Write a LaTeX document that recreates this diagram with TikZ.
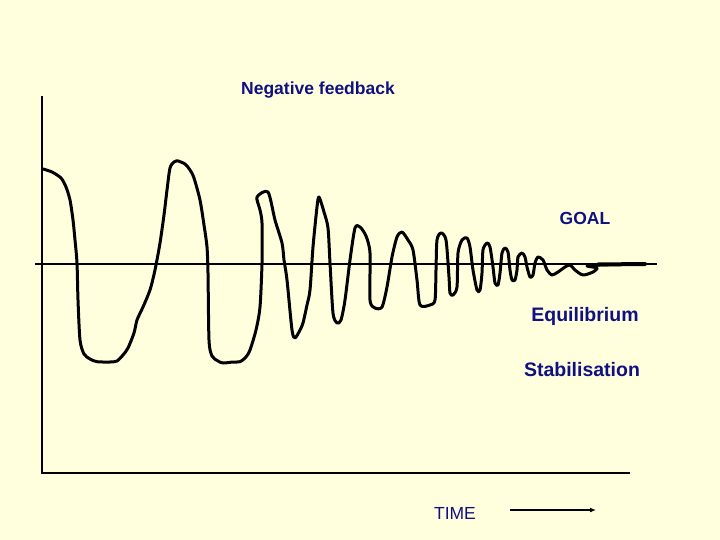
\documentclass[tikz,border=0pt]{standalone}
\usepackage{fontspec}
\setmainfont{Liberation Sans}
\usetikzlibrary{arrows.meta}
\definecolor{bg}{RGB}{255,255,221}
\definecolor{navy}{RGB}{16,16,128}
\tikzset{
  lbl/.style={text=navy, inner sep=0pt, font=\fontsize{17.5}{20}\selectfont\bfseries},
  lblbig/.style={text=navy, inner sep=0pt, font=\fontsize{19.5}{22}\selectfont\bfseries},
  lblreg/.style={text=navy, inner sep=0pt, font=\fontsize{17.5}{20}\selectfont},
  axis/.style={line width=2pt, black},
  wave/.style={line width=3pt, black, line join=round, line cap=round}
}
\begin{document}
\begin{tikzpicture}[x=1pt,y=-1pt]
\fill[bg] (0,0) rectangle (720,540);
\useasboundingbox (0,0) rectangle (720,540);
% axes
\coordinate (ytop) at (42,96);
\coordinate (orig) at (42,473);
\coordinate (xend) at (630,473);
\coordinate (gl) at (35,264);
\coordinate (gr) at (657,264);
\draw[axis] (ytop) -- (orig) -- (xend);
\draw[axis] (gl) -- (gr);
% wave
\draw[wave] plot[smooth, tension=0.45] coordinates {
(43,169) (52,172) (61,178) (66,187) (70,200) (73,220) (75,240) (77,263) (78,300) (80,340) (84,354) (90,359) (97,361.7) (110,362) (117,361) (123,355) (128,348) (134,333) (137,320) (143,307) (150,290) (155,270) (160,243) (164,215) (167,190) (170,168) (174,162) (177,160.7) (185,164) (190,170) (194,178) (200,200) (204,225) (207,247) (208,273) (209,340) (212,356) (218,361) (223,363) (233,362) (240,361.7) (246,357) (250,350) (256,330) (260,307) (262,263) (262,223) (260,210) (257,197) (268,192) (275,220) (282,243) (284,260) (287,280) (292,330) (295,338) (300,330) (303,323) (307,305) (310,290) (313,247) (317,207) (319,197) (324,212) (328,228) (330,263) (333,313) (337,323) (341,320) (345,300) (350,260) (355,228) (360,227) (366,236) (370,253) (370,300) (375,308) (382,307) (387,287) (392,257) (397,237) (402,232) (408,240) (413,250) (417,280) (420,305) (430,305) (435,300) (436,270) (437,240) (441,233) (446,240) (449,277) (450,293) (453,295) (457,287) (458,253) (462,240) (467,238) (470,247) (473,270) (477,290) (480,290) (482,273) (483,250) (487,243) (490,247) (493,267) (495,283) (498,285) (500,273) (502,253) (505,248) (508,252) (510,270) (512,280) (515,280) (517,270) (518,257) (522,253) (525,257) (527,267) (530,277) (533,275) (535,263) (538,257) (543,260) (547,270) (552,275) (558,272) (565,267) (570,265) (575,270) (583,275) (593,272) (597,268) (587,266) (600,265) (620,264.5) (645,264)};
\coordinate (t1) at (598,264.5);
\coordinate (t2) at (645,264);
\draw[line width=4pt, line cap=round] (t1) -- (t2);
% labels
\node[lbl] (title) at (318,90) {Negative feedback};
\node[lbl] (goal) at (585,218) {GOAL};
\node[lblbig] (eq) at (585,316) {Equilibrium};
\node[lblbig] (stab) at (582,370) {Stabilisation};
\node[lblreg] (time) at (455,513) {TIME};
\coordinate (a1) at (510,510);
\coordinate (a2) at (596,510);
\draw[line width=1.6pt, -{Latex[length=6pt,width=5pt]}] (a1) -- (a2);
\end{tikzpicture}
\end{document}
